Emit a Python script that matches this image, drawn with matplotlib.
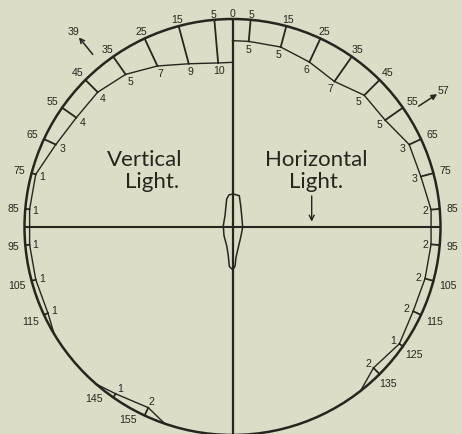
import numpy as np
import matplotlib
matplotlib.use("Agg")
import matplotlib.pyplot as plt
from matplotlib.patches import Circle, Polygon

# Candle-power readings (depth inward from the rim) by angle from the vertical
vert_angles = [0, 5, 15, 25, 35, 45, 55, 65, 75, 85, 95, 105, 115, 121]
vert_values = [10, 10, 9, 7, 5, 4, 4, 3, 1, 1, 1, 1, 1, 0]
vert_low_angles = [139, 145, 155, 161]
vert_low_values = [0, 1, 2, 0]
vert_ticks = [5, 15, 25, 35, 45, 55, 65, 75, 85, 95, 105, 115, 145, 155]

horiz_angles = [0, 5, 15, 25, 35, 45, 55, 65, 75, 85, 95, 105, 115, 125, 135, 142]
horiz_values = [5, 5, 5, 6, 7, 5, 5, 3, 3, 2, 2, 2, 2, 1, 2, 0]
horiz_ticks = [5, 15, 25, 35, 45, 55, 65, 75, 85, 95, 105, 115, 125, 135]

vert_peak_angle = 39
horiz_peak_angle = 57

R = 48.0                 # rim radius in reading units
PX = 208.0 / R           # pixels per unit
INK = "#26261f"
PAPER = "#dcdcc7"
NUM_FONT = ["Liberation Sans Narrow", "Liberation Sans", "DejaVu Sans"]
TITLE_FONT = ["Lato", "Liberation Sans", "DejaVu Sans"]

# small angular shifts (degrees) for crowded outer labels near the bottom
outer_label_shift = {(-1, 145): -4.0, (-1, 155): -3.5}


def xy(side, ang, r):
    t = np.radians(np.asarray(ang, dtype=float))
    r = np.asarray(r, dtype=float)
    return side * r * np.sin(t), r * np.cos(t)


def value_at(angles, values, ang):
    return values[angles.index(ang)]


def text_extent(ang, text):
    # half-extent (px) of a small horizontal label along the radial direction
    w = 5.0 * len(text)
    h = 8.0
    t = np.radians(ang)
    return abs(w / 2 * np.sin(t)) + abs(h / 2 * np.cos(t))


fig = plt.figure(figsize=(4.62, 4.35), dpi=100, facecolor=PAPER)
ax = fig.add_axes([0, 0, 1, 1])
ax.set_facecolor(PAPER)
ax.set_xlim(-232.5 / PX, 229.5 / PX)
ax.set_ylim(-207.0 / PX, 228.0 / PX)
ax.axis("off")

# rim and cross lines
ax.add_patch(Circle((0, 0), R, fill=False, lw=1.8, ec=INK))
ax.plot([-R, R], [0, 0], color=INK, lw=1.5, solid_capstyle="butt")
ax.plot([0, 0], [-R, R], color=INK, lw=1.6, solid_capstyle="butt")


def draw_side(side, angles, values, ticks, extra=None):
    x, y = xy(side, angles, R - np.asarray(values, dtype=float))
    ax.plot(x, y, color=INK, lw=1.0)
    all_a, all_v = list(angles), list(values)
    if extra is not None:
        ea, ev = extra
        x2, y2 = xy(side, ea, R - np.asarray(ev, dtype=float))
        ax.plot(x2, y2, color=INK, lw=1.0)
        all_a += list(ea)
        all_v += list(ev)
    for a in ticks:
        v = value_at(all_a, all_v, a)
        xs, ys = xy(side, [a, a], [R - v, R])
        ax.plot(xs, ys, color=INK, lw=1.3)
        # angle label outside the rim
        lab = str(a)
        la = a + outer_label_shift.get((side, a), 0.0)
        gap = 2.0 + 5.0 * np.sin(np.radians(la)) ** 2
        ro = R + (gap + text_extent(la, lab)) / PX
        tx, ty = xy(side, la, ro)
        ax.text(tx, ty, lab, ha="center", va="center", fontsize=7.6,
                color=INK, family=NUM_FONT)
        # reading label inside the curve
        vl = str(v)
        ri = R - v - (3.0 + text_extent(a, vl)) / PX
        tx, ty = xy(side, a, ri)
        ax.text(tx, ty, vl, ha="center", va="center", fontsize=7.6,
                color=INK, family=NUM_FONT)


draw_side(-1, vert_angles, vert_values, vert_ticks,
          extra=(vert_low_angles, vert_low_values))
draw_side(1, horiz_angles, horiz_values, horiz_ticks)

# zero mark at the top
ax.text(0, R + (2.0 + text_extent(0, "0")) / PX, "0", ha="center",
        va="center", fontsize=7.6, color=INK, family=NUM_FONT)

# peak direction arrows
for side, ang, style in [(-1, vert_peak_angle, "->"), (1, horiz_peak_angle, "-|>")]:
    tail = xy(side, ang, R + 14 / PX)
    tip = xy(side, ang, R + 36 / PX)
    lab = xy(side, ang, R + 44 / PX)
    ax.annotate("", xy=tip, xytext=tail,
                arrowprops=dict(arrowstyle=style, color=INK, lw=1.1,
                                mutation_scale=8, shrinkA=0, shrinkB=0))
    ax.text(lab[0], lab[1], str(ang), ha="center", va="center",
            fontsize=7.6, color=INK, family=NUM_FONT)

# lamp outline at the centre
lamp_px = np.array([
    (0.8, 33), (6.8, 31.3), (8.2, 21.3), (9.2, 11.3), (10.2, -0.3),
    (8.2, -10.3), (5.8, -20.3), (3.5, -30.3), (2.5, -39.3), (0.8, -42),
    (-0.8, -42), (-3.2, -39.3), (-4.2, -28.7), (-5.8, -18.7), (-8.5, -8.7),
    (-9.2, 1.3), (-7.5, 11.3), (-6.5, 21.3), (-5.8, 28), (-3.5, 32.2),
])
ax.add_patch(Polygon(lamp_px / PX, closed=True, fill=False, ec=INK,
                     lw=1.1, joinstyle="round"))

# titles
title_kw = dict(ha="center", va="baseline", fontsize=16, color=INK,
                family=TITLE_FONT, fontweight="normal")
ax.text(-87.5 / PX, (228 - 166) / PX, "Vertical", **title_kw)
ax.text(-80.5 / PX, (228 - 188.5) / PX, "Light.", **title_kw)
ax.text(83.5 / PX, (228 - 166) / PX, "Horizontal", **title_kw)
ax.text(84.0 / PX, (228 - 188.5) / PX, "Light.", **title_kw)
ax.annotate("", xy=(79.2 / PX, 5.3 / PX), xytext=(79.2 / PX, 31 / PX),
            arrowprops=dict(arrowstyle="->", color=INK, lw=1.0,
                            mutation_scale=9, shrinkA=0, shrinkB=0))

fig.savefig("out.png", dpi=100, facecolor=PAPER)
